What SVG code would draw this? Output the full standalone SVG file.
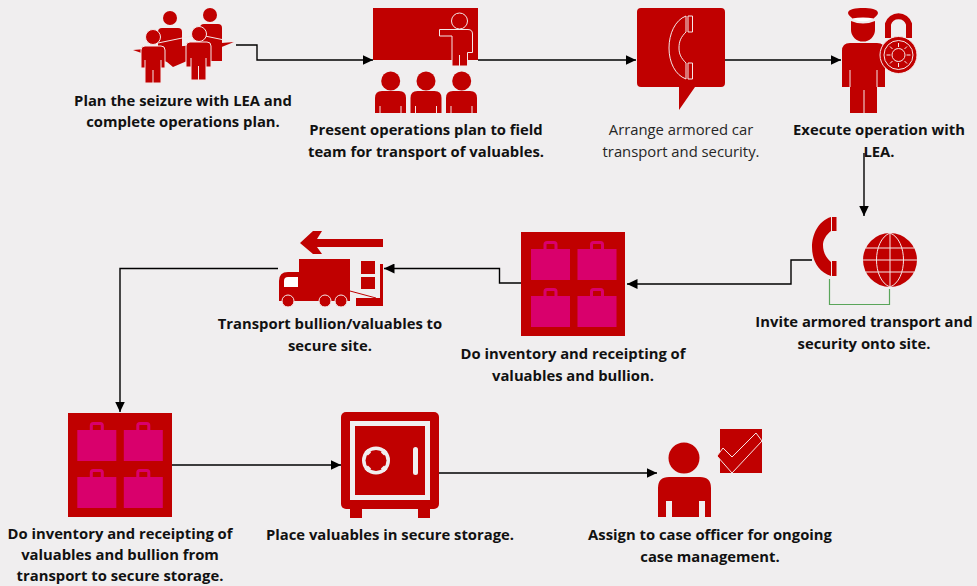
<svg xmlns="http://www.w3.org/2000/svg" xmlns:xlink="http://www.w3.org/1999/xlink" width="977" height="586" viewBox="0 0 977 586">
<style>
.bg{fill:#f0eeef}
.r{fill:#c00000}
.ro{fill:#c00000;stroke:#f5e8e8;stroke-width:1}
.w{fill:none;stroke:#f5e8e8;stroke-width:1}
.p{fill:#d9006c}
.c{fill:none;stroke:#000;stroke-width:1.4}
.g{fill:none;stroke:#5aa55a;stroke-width:1.2}
text{font-family:"Open Sans","Liberation Sans",sans-serif;font-size:14.8px;text-anchor:middle;fill:#111}
.b{font-weight:700}
.n{fill:#262626}
</style>
<defs>
<marker id="a" markerUnits="userSpaceOnUse" markerWidth="11" markerHeight="10" refX="10.500" refY="5" orient="auto"><path d="M0 0L10.500 5L0 10z" fill="#000"/></marker>
<g id="bags">
<g id="bag"><rect class="p" x="0" y="8" width="39" height="31"/><path d="M6 8V3.500Q6 1.500 8 1.500H15Q17 1.500 17 3.500V8" transform="translate(8 0)" fill="none" stroke="#d9006c" stroke-width="3"/></g>
<use xlink:href="#bag" href="#bag" x="46.500"/><use xlink:href="#bag" href="#bag" y="47"/><use xlink:href="#bag" href="#bag" x="46.500" y="47"/>
</g>
</defs>
<rect class="bg" width="977" height="586"/>
<g id="connectors">
<path class="c" marker-end="url(#a)" d="M236 45H257V60H373"/>
<path class="c" marker-end="url(#a)" d="M478 60H636"/>
<path class="c" marker-end="url(#a)" d="M725 60H841"/>
<path class="c" marker-end="url(#a)" d="M864 153V216"/>
<path class="c" marker-end="url(#a)" d="M812 260H791V284H627"/>
<path class="c" marker-end="url(#a)" d="M521 283H499.500V268.500H384"/>
<path class="c" marker-end="url(#a)" d="M278 268.500H120V412"/>
<path class="c" marker-end="url(#a)" d="M172 465H341"/>
<path class="c" marker-end="url(#a)" d="M439 473H657"/>
<path class="g" d="M829.500 279V304.500H889.500V289"/>
</g>
<g id="n1">
<circle class="r" cx="170" cy="18" r="7"/><circle class="r" cx="210" cy="15" r="7"/>
<path class="r" d="M158 32Q158 28 162 28H178Q182 28 182 32V60H158z"/>
<path class="r" d="M200 28Q200 24 204 24H218Q222 24 222 28V61H200z"/>
<path class="r" d="M234 42L133 50L167 62L173 67L187 61z"/>
<path class="w" d="M158 43L192 36M205 36L234 42"/>
<circle class="ro" cx="153" cy="37" r="7.500"/>
<path class="ro" d="M141 50Q141 46 145 46H161Q165 46 165 50V68H161V83H145V68H141z"/>
<path class="w" d="M153 70V83M145 60V68M161 60V68"/>
<circle class="ro" cx="199" cy="34" r="7.500"/>
<path class="ro" d="M186 46Q186 42 190 42H207Q211 42 211 46V67H206V80H191V67H186z"/>
<path class="w" d="M198.500 66V80M191 58V67M206 58V67"/>
</g>
<g id="n2">
<rect class="r" x="373" y="8" width="105" height="52"/>
<circle class="w" cx="459.500" cy="21" r="8"/>
<path class="ro" d="M439.500 29.500H468Q472.500 29.500 472.500 34V52.500H467.500V66H452V36H439.500z"/>
<path class="w" d="M459.500 55V66"/>
<circle class="r" cx="390.700" cy="81" r="9.500"/><circle class="r" cx="426" cy="81" r="9.500"/><circle class="r" cx="461.700" cy="81" r="9.500"/>
<path class="r" d="M375 113V98Q375 91 382 91H399Q406 91 406 98V113z"/>
<path class="r" d="M410.500 113V98Q410.500 91 417.500 91H434.500Q441.500 91 441.500 98V113z"/>
<path class="r" d="M446 113V98Q446 91 453 91H470Q477 91 477 98V113z"/>
<path class="w" d="M380 106V113M401 106V113M415.500 106V113M436.500 106V113M451 106V113M472 106V113"/>
</g>
<g id="n3">
<path class="r" d="M641 8H721Q725 8 725 12V83Q725 87 721 87H695L679 110V87H641Q637 87 637 83V12Q637 8 641 8z"/>
<path class="w" d="M688 16H692.500V32H688zM688 63H692.500V79H688zM686 16C675 20 669 34 669 48C669 62 675 75 686 79V63C681 58 679 54 679 48C679 41 681 37 686 32z"/>
</g>
<g id="n4">
<path class="r" d="M848 13C848 9 856 8 863 8C870 8 878 9 878 13C878 15 875 17 873 19H853C851 17 848 15 848 13z"/>
<path d="M852 18.500Q863 16.500 874 18.500Q863 24 852 18.500z" fill="#fff"/>
<path class="r" d="M851 21Q863 26 875 21V30A12 11.500 0 0 1 851 30z"/>
<path class="r" d="M842 51Q842 43 850 43H877Q885 43 885 51V87H877V113H850V87H842z"/>
<path class="w" d="M850 70V87M877 70V87M864 90V113"/>
<path d="M888 38V24A11 11 0 0 1 909 24V38" fill="none" stroke="#c00000" stroke-width="6"/>
<circle class="ro" cx="898.500" cy="55" r="18.500"/>
<circle class="w" cx="898.500" cy="55" r="14.500"/>
<circle class="w" cx="898.500" cy="55" r="6.500"/>
<path class="w" stroke-width="1.500" d="M898.500 43V47M898.500 63V67M886.500 55H890.500M906.500 55H910.500M890 46.500L892.500 49M904.500 61L907 63.500M907 46.500L904.500 49M892.500 61L890 63.500"/>
</g>
<g id="n5">
<path class="r" d="M831 217C818 221 812 235 812 247C812 260 818 272 831 276V262C826 258 823 252 823 245C823 240 826 235 831 231z"/>
<rect class="r" x="832" y="217" width="4.500" height="14"/><rect class="r" x="832" y="261" width="4.500" height="15"/>
<circle class="r" cx="890" cy="260" r="27"/>
<path class="w" d="M890 233V287M863 260H917M866 248H914M866 272H914M890 233C872 240 872 280 890 287M890 233C908 240 908 280 890 287"/>
</g>
<g id="n6">
<rect class="r" x="521" y="232" width="104" height="104"/>
<use xlink:href="#bags" href="#bags" x="531" y="241"/>
</g>
<g id="n7">
<path class="r" d="M300 243L313 231H322L317 239H383V247H317L322 254H313z"/>
<rect class="r" x="299" y="259" width="51" height="42"/>
<path class="r" d="M279 301V281Q279 272 288 272H299V301z"/>
<path d="M284 287V281Q284 277 288 277H298V287z" fill="#fff"/>
<circle class="ro" cx="288" cy="301" r="6"/><circle class="ro" cx="325" cy="301" r="6"/><circle class="ro" cx="341" cy="301" r="6"/>
<rect class="r" x="361" y="261" width="14" height="13"/><rect class="r" x="361" y="277" width="14" height="12"/>
<path class="r" d="M380 264H383V306H356V298H380z"/>
<path d="M350 291L376 298" stroke="#c00000" stroke-width="1" fill="none"/>
</g>
<g id="n8">
<rect class="r" x="68" y="413" width="104" height="104"/>
<use xlink:href="#bags" href="#bags" x="77.300" y="422"/>
</g>
<g id="n9">
<rect class="r" x="341" y="412" width="98" height="97" rx="5"/>
<rect class="r" x="350" y="505" width="12" height="13"/><rect class="r" x="418" y="505" width="12" height="13"/>
<rect x="352.500" y="423.500" width="75" height="74" fill="#c00000" stroke="#f0eeef" stroke-width="5"/>
<circle cx="376" cy="460.500" r="14" fill="#f0eeef"/>
<circle cx="376" cy="460.500" r="10.500" fill="#c00000"/>
<path d="M369.500 454L366 450.500M382.500 454L386 450.500M369.500 467L366 470.500M382.500 467L386 470.500" stroke="#f0eeef" stroke-width="4.500" fill="none"/>
<rect x="413" y="447" width="5" height="28" rx="2.500" fill="#f0eeef"/>
</g>
<g id="n10">
<circle class="r" cx="684" cy="458" r="15.500"/>
<path class="r" d="M658 517V488Q658 477 669 477H700Q711 477 711 488V517H705V501H699V517H672V501H666V517z"/>
<rect class="r" x="720" y="429" width="42" height="44"/>
<path class="ro" d="M717 456L723 448L732 457L756 433L762 441L732 473z"/>
</g>
<g id="labels">
<text class="b" x="183" y="105.500">Plan the seizure with LEA and</text><text class="b" x="183" y="126.500">complete operations plan.</text>
<text class="b" x="426" y="134.500">Present operations plan to field</text><text class="b" x="426" y="156.500">team for transport of valuables.</text>
<text class="n" x="681" y="134.500">Arrange armored car</text><text class="n" x="681" y="156.500">transport and security.</text>
<text class="b" x="879" y="134.500">Execute operation with</text><text class="b" x="879" y="156.500">LEA.</text>
<text class="b" x="864" y="326.500">Invite armored transport and</text><text class="b" x="864" y="348.500">security onto site.</text>
<text class="b" x="330" y="328.500">Transport bullion/valuables to</text><text class="b" x="330" y="350.500">secure site.</text>
<text class="b" x="573" y="358.500">Do inventory and receipting of</text><text class="b" x="573" y="380.500">valuables and bullion.</text>
<text class="b" x="120" y="539">Do inventory and receipting of</text><text class="b" x="120" y="560">valuables and bullion from</text><text class="b" x="120" y="581">transport to secure storage.</text>
<text class="b" x="390" y="539.500">Place valuables in secure storage.</text>
<text class="b" x="710" y="539.500">Assign to case officer for ongoing</text><text class="b" x="710" y="561.500">case management.</text>
</g>
</svg>
